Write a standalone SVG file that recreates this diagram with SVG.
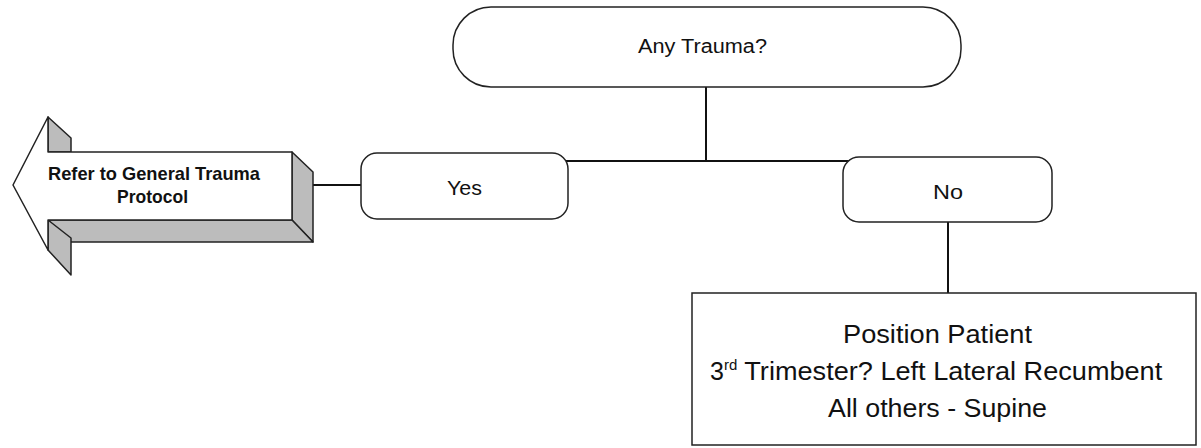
<svg xmlns="http://www.w3.org/2000/svg" width="1201" height="448" viewBox="0 0 1201 448">
<style>
.box{fill:#fff;stroke:#222;stroke-width:1.5}
.line{stroke:#111;stroke-width:2;fill:none}
.face{fill:#fff;stroke:#222;stroke-width:1.5;stroke-linejoin:round}
.side{fill:#bcbcbc;stroke:#222;stroke-width:1.5;stroke-linejoin:round}
.t{font-family:"Liberation Sans",Arial,sans-serif;fill:#111}
.b{font-weight:bold}
</style>
<g id="connectors">
<line class="line" x1="706" y1="87" x2="706" y2="161"/>
<line class="line" x1="560" y1="161" x2="852" y2="161"/>
<line class="line" x1="313" y1="185" x2="362" y2="185"/>
<line class="line" x1="948" y1="222" x2="948" y2="293"/>
</g>
<g id="arrow">
<polygon class="side" points="48,117 71,138 71,152 48,152"/>
<polygon class="side" points="292,152 313,172 313,242 292,220"/>
<polygon class="side" points="48,220 292,220 313,242 71,242"/>
<polygon class="side" points="48,220 71,238 71,275 48,250"/>
<polygon class="face" points="13,185 48,117 48,152 292,152 292,220 48,220 48,250"/>
<text class="t b" x="48" y="180" font-size="19" textLength="212" lengthAdjust="spacingAndGlyphs">Refer to General Trauma</text>
<text class="t b" x="117" y="203" font-size="19" textLength="71" lengthAdjust="spacingAndGlyphs">Protocol</text>
</g>
<g id="any-trauma">
<rect class="box" x="453" y="7" width="508" height="80" rx="38" ry="38"/>
<text class="t" x="638" y="53" font-size="20" textLength="129" lengthAdjust="spacingAndGlyphs">Any Trauma?</text>
</g>
<g id="yes">
<rect class="box" x="361" y="153" width="207" height="66" rx="16" ry="16"/>
<text class="t" x="447" y="195" font-size="21" textLength="35" lengthAdjust="spacingAndGlyphs">Yes</text>
</g>
<g id="no">
<rect class="box" x="843" y="157" width="209" height="65" rx="16" ry="16"/>
<text class="t" x="933" y="199" font-size="21" textLength="30" lengthAdjust="spacingAndGlyphs">No</text>
</g>
<g id="position">
<rect class="box" x="692" y="293" width="504" height="152"/>
<text class="t" x="843" y="343" font-size="25" textLength="189" lengthAdjust="spacingAndGlyphs">Position Patient</text>
<text class="t" x="710" y="380" font-size="25">3<tspan font-size="15" dy="-10">rd</tspan><tspan dy="10" textLength="425" lengthAdjust="spacingAndGlyphs"> Trimester? Left Lateral Recumbent</tspan></text>
<text class="t" x="828" y="417" font-size="25" textLength="219" lengthAdjust="spacingAndGlyphs">All others - Supine</text>
</g>
</svg>
